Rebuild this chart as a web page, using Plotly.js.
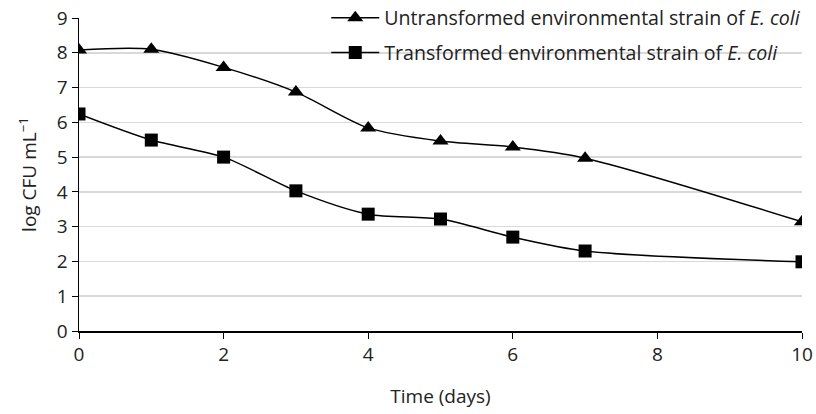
<!DOCTYPE html>
<html>
<head>
<meta charset="utf-8">
<script src="https://cdn.plot.ly/plotly-3.0.1.min.js"></script>
<style>html,body{margin:0;padding:0;background:#fff;}#chart{width:816px;height:414px;}</style>
</head>
<body>
<div id="chart"></div>
<script>
const days = [0, 1, 2, 3, 4, 5, 6, 7, 10];
const untransformed = [8.08, 8.1, 7.58, 6.87, 5.84, 5.46, 5.29, 4.97, 3.14];
const transformed = [6.24, 5.49, 5.0, 4.03, 3.36, 3.22, 2.7, 2.3, 1.99];
const seriesNames = [
  'Untransformed environmental strain of <i>E. coli</i>',
  'Transformed environmental strain of <i>E. coli</i>'
];
const xTicks = [0, 2, 4, 6, 8, 10];
const yTicks = [0, 1, 2, 3, 4, 5, 6, 7, 8, 9];

const font = {family: 'Open Sans, sans-serif', size: 19, color: '#222'};
const legendFont = {family: 'Open Sans, sans-serif', size: 19.6, color: '#222'};

const traces = [
  {x: days, y: untransformed, name: seriesNames[0], mode: 'lines+markers', legend: 'legend',
   line: {color: '#000', width: 1.5, shape: 'spline', smoothing: 0.8},
   marker: {symbol: 'triangle-up', size: 14, color: '#000'}},
  {x: days, y: transformed, name: seriesNames[1], mode: 'lines+markers', legend: 'legend2',
   line: {color: '#000', width: 1.5, shape: 'spline', smoothing: 0.8},
   marker: {symbol: 'square', size: 13, color: '#000'}}
];

const layout = {
  width: 816, height: 414,
  margin: {l: 79, r: 14, t: 18, b: 83, autoexpand: false},
  paper_bgcolor: '#fff', plot_bgcolor: '#fff',
  font: font,
  showlegend: true,
  legend: {x: 0.342, xanchor: 'left', y: 1, yanchor: 'middle', bgcolor: 'rgba(0,0,0,0)',
           font: legendFont, itemwidth: 48},
  legend2: {x: 0.342, xanchor: 'left', y: 8/9, yanchor: 'middle', bgcolor: 'rgba(0,0,0,0)',
            font: legendFont, itemwidth: 48},
  xaxis: {range: [0, 10], tickvals: xTicks, ticks: 'outside', ticklen: 6, tickcolor: '#000',
          showline: true, linecolor: '#000', linewidth: 1.5, showgrid: false, zeroline: false,
          tickfont: font, title: {text: 'Time (days)', font: font, standoff: 23}},
  yaxis: {range: [0, 9], tickvals: yTicks, ticks: 'outside', ticklen: 6, tickcolor: '#000',
          showline: true, linecolor: '#000', linewidth: 1.5, showgrid: true, gridcolor: '#d9d9d9',
          gridwidth: 1.5, zeroline: false, tickfont: font,
          title: {text: 'log CFU mL<sup>−1</sup>', font: font, standoff: 15}}
};

Plotly.newPlot('chart', traces, layout, {displayModeBar: false, staticPlot: true});
</script>
</body>
</html>
